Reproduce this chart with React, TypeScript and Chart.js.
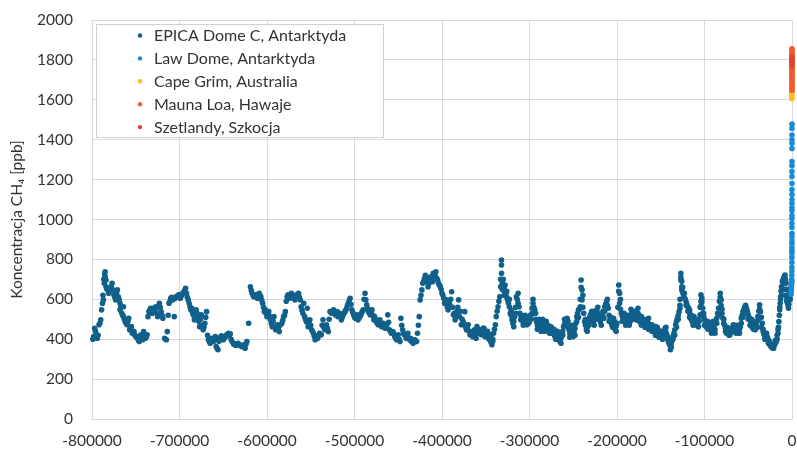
import { useEffect, useRef } from "react";
import { Chart, registerables } from "chart.js";

Chart.register(...registerables);

const FONT = "Lato, 'Open Sans', sans-serif";
const TEXT = "#333333";
const GRID = "#d9d9d9";

// Tick values of the axes
const xTicks = [-800000, -700000, -600000, -500000, -400000, -300000, -200000, -100000, 0];
const yTicks = [0, 200, 400, 600, 800, 1000, 1200, 1400, 1600, 1800, 2000];

// EPICA Dome C: age in thousands of years (negative = before present) and CH4 in ppb
const epicaAgeKyr = [
  -799, -798, -797, -795, -794, -792, -790, -789, -788, -787, -786, -785, -785, -784, -784, -782, -781, -779, -777, -776,
  -775, -773, -771, -770, -768, -768, -766, -764, -764, -762, -760, -758, -757, -755, -754, -752, -750, -748, -746, -744,
  -742, -741, -739, -737, -736, -735, -733, -731, -729, -727, -725, -723, -721, -719, -717, -715, -714, -712, -710, -708,
  -706, -704, -701, -699, -697, -695, -693, -692, -690, -688, -687, -685, -683, -681, -679, -677, -675, -673, -671, -669,
  -667, -665, -663, -661, -659, -658, -656, -654, -652, -650, -648, -646, -644, -642, -640, -637, -634, -633, -629, -627,
  -625, -623, -621, -619, -617, -615, -613, -611, -609, -607, -605, -603, -602, -600, -598, -596, -594, -592, -590, -588,
  -586,
  -583, -581, -579, -577, -576, -574, -572, -570, -568, -566, -564, -562, -561, -559, -558, -557, -555, -554, -553, -551,
  -549, -547, -545, -544, -542, -540, -538, -536, -534, -532, -530, -528, -526, -524, -522, -520, -519, -517, -515, -513,
  -511, -509, -507, -505, -503, -501, -499, -497, -496, -494, -492, -490, -488, -487, -486, -484, -482, -480, -478, -477,
  -475, -473, -471, -469, -467, -465, -463, -462, -460, -458, -456, -454, -452, -450, -448, -447, -445, -443, -441, -439,
  -437, -435, -433, -431, -429, -428, -426, -425, -423, -422, -420, -418, -416, -414, -413, -411, -409, -407, -406, -404,
  -402, -400, -398, -397, -395, -393, -391, -389, -387, -385, -383, -381, -380, -378, -376, -374, -372, -370, -368, -367,
  -365, -363, -361,
  -360, -358, -357, -355, -353, -351, -349, -347, -345, -343, -342, -341, -339, -338, -336, -334, -333, -332, -332, -332,
  -331, -330, -328, -327, -325, -323, -322, -320, -318, -317, -315, -313, -312, -310, -309, -307, -305, -303, -301, -300,
  -298, -296, -294, -292, -290, -288, -286, -284, -282, -280, -278, -276, -275, -273, -271, -269, -267, -265, -263, -261,
  -259, -257, -256, -254, -252, -250, -248, -246, -244, -242, -241, -240, -240, -238, -237, -235, -233, -231, -229, -227,
  -225, -223, -221, -219, -217, -215, -214, -212, -210, -208, -206, -204, -202, -200, -198, -197, -197, -195, -193, -191,
  -189, -187, -185, -183, -181, -179, -178, -176, -174, -172, -170, -168, -166, -164, -162, -160, -158, -156, -155, -153,
  -151, -149, -147, -145,
  -143, -142, -140, -139, -138, -136, -134, -133, -131, -129, -128, -127, -127, -126, -126, -124, -123, -121, -120, -118,
  -117, -116, -114, -112, -111, -109, -107, -105, -104, -103, -102, -101, -99, -98, -96, -94, -92, -90, -88, -86,
  -84, -82, -81, -80, -78, -76, -75, -73, -71, -69, -67, -65, -63, -61, -59, -58, -56, -54, -52, -50,
  -48, -46, -44, -42, -41, -39, -37, -36, -34, -33, -31, -29, -27, -25, -24, -22, -20, -18, -16, -15,
  -14, -13, -12, -10, -9, -8, -7, -6, -5, -4, -3, -2, -1,
];
const epicaCh4 = [
  400, 413, 455, 422, 405, 472, 497, 547, 580, 597, 680, 713, 738, 697, 663, 647, 630, 655, 680, 647,
  622, 597, 647, 613, 580, 547, 530, 513, 563, 488, 472, 505, 447, 463, 430, 438, 413, 405, 388, 422,
  397, 438, 405, 422, 513, 538, 555, 530, 547, 563, 513, 580, 538, 505, 405, 397, 438, 580, 605, 597,
  513, 613, 622, 605, 622, 638, 655, 630, 597, 563, 547, 530, 497, 547, 513, 463, 522, 447, 480, 538,
  397, 380, 405, 388, 413, 363, 347, 405, 417, 397, 410, 422, 430, 427, 388, 377, 372, 380, 363, 372,
  355, 388, 480, 663, 630, 613, 622, 605, 630, 613, 580, 538, 547, 513, 538, 497, 463, 513, 447, 472,
  438,
  480, 513, 538, 613, 622, 605, 630, 613, 597, 622, 630, 597, 563, 530, 580, 513, 488, 555, 463, 497,
  447, 430, 397, 413, 405, 430, 422, 497, 447, 472, 438, 538, 530, 547, 522, 538, 513, 530, 497, 522,
  538, 555, 580, 605, 547, 522, 505, 522, 497, 513, 530, 547, 630, 597, 572, 538, 522, 547, 497, 513,
  488, 472, 497, 463, 480, 455, 472, 522, 447, 430, 438, 413, 397, 422, 388, 505, 447, 422, 405, 430,
  397, 388, 380, 397, 388, 430, 513, 597, 647, 680, 705, 688, 663, 697, 713, 688, 722, 738, 705, 680,
  663, 630, 605, 580, 597, 547, 572, 638, 522, 497, 538, 597, 513, 472, 488, 538, 447, 472, 422, 438,
  413, 447, 405,
  463, 430, 447, 422, 455, 413, 430, 405, 397, 372, 388, 430, 472, 513, 563, 613, 663, 797, 772, 730,
  680, 647, 672, 630, 597, 563, 530, 497, 463, 513, 613, 630, 563, 497, 513, 480, 497, 472, 505, 488,
  522, 580, 547, 488, 455, 480, 447, 488, 455, 472, 438, 463, 430, 447, 413, 438, 405, 388, 422, 463,
  488, 505, 463, 430, 447, 413, 455, 513, 547, 563, 697, 647, 597, 530, 488, 447, 472, 513, 538, 488,
  522, 547, 513, 488, 522, 505, 563, 588, 555, 497, 472, 505, 447, 480, 672, 630, 580, 530, 497, 522,
  480, 505, 488, 538, 513, 530, 497, 555, 488, 513, 472, 497, 463, 505, 447, 472, 438, 463, 430, 447,
  413, 438, 422, 455,
  422, 397, 372, 347, 380, 413, 447, 472, 505, 538, 555, 730, 697, 663, 647, 622, 605, 588, 572, 555,
  530, 505, 488, 513, 480, 497, 463, 522, 622, 588, 555, 513, 488, 463, 488, 455, 438, 472, 447, 505,
  555, 630, 597, 530, 480, 455, 430, 447, 422, 447, 472, 438, 455, 430, 463, 505, 538, 563, 555, 522,
  497, 463, 488, 447, 472, 513, 572, 538, 480, 438, 413, 430, 397, 380, 363, 355, 372, 388, 430, 488,
  547, 613, 663, 680, 713, 722, 680, 613, 580, 555, 597, 630, 663,
];

// Further EPICA Dome C samples as [age kyr, CH4 ppb]
const epicaMoreSamples: [number, number][] = [
  [-798.5, 405], [-796, 440], [-793, 420], [-791, 480], [-787.5, 620], [-786.5, 700], [-785.5, 725], [-783, 650],
  [-780, 640], [-778, 665], [-774, 610], [-772, 630], [-769, 600], [-767, 560], [-765, 520], [-763, 500],
  [-761, 480], [-759, 490], [-756, 450], [-753, 440], [-751, 420], [-749, 415], [-747, 395], [-745, 410],
  [-743, 410], [-740, 420], [-738, 410], [-734, 545], [-732, 540], [-730, 555], [-728, 540], [-726, 530],
  [-724, 560], [-722, 560], [-720, 520], [-716, 400], [-713, 520], [-711, 590], [-709, 610], [-707, 600],
  [-705, 605], [-703, 615], [-700, 612], [-698, 625], [-696, 630], [-694, 645], [-691, 610], [-689, 580],
  [-686, 555], [-684, 520], [-682, 530], [-680, 530], [-678, 490], [-676, 500], [-674, 470], [-672, 460],
  [-670, 510], [-668, 420], [-666, 390], [-664, 395], [-662, 400], [-660, 400], [-657, 355], [-655, 390],
  [-653, 410], [-651, 405], [-649, 405], [-647, 415], [-645, 425], [-643, 420], [-641, 400], [-638, 375],
  [-636, 370], [-632, 372], [-630, 368], [-628, 365], [-626, 362], [-624, 375], [-618, 645], [-616, 620],
  [-614, 615], [-612, 615], [-610, 620], [-608, 620], [-606, 595], [-604, 560], [-601, 530], [-599, 525],
  [-597, 515], [-595, 480], [-593, 490], [-591, 460], [-589, 460], [-587, 450], [-585, 470], [-582, 495],
  [-580, 520], [-578, 590], [-575, 615], [-573, 620], [-571, 620], [-569, 605], [-567, 610], [-565, 625],
  [-563, 610], [-560, 545], [-556, 500], [-552, 480], [-550, 470], [-548, 440], [-546, 415], [-543, 410],
  [-541, 420], [-539, 425], [-537, 470], [-535, 460], [-533, 460], [-531, 455], [-529, 500], [-527, 535],
  [-525, 540], [-523, 530], [-521, 530], [-518, 520], [-516, 515], [-514, 510], [-512, 530], [-510, 545],
  [-508, 570], [-506, 595], [-504, 575], [-502, 535], [-500, 510], [-498, 515], [-495, 505], [-493, 520],
  [-491, 540], [-489, 600], [-485, 555], [-483, 530], [-481, 535], [-479, 520], [-476, 500], [-474, 480],
  [-472, 485], [-470, 480], [-468, 470], [-466, 465], [-464, 465], [-461, 485], [-459, 440], [-457, 435],
  [-455, 425], [-453, 405], [-451, 410], [-449, 400], [-446, 470],
  [-444, 430], [-440, 420], [-436, 405], [-432, 395], [-427, 470], [-424, 620], [-421, 690], [-419, 720],
  [-417, 700], [-415, 680], [-412, 700], [-410, 730], [-408, 720], [-405, 695], [-403, 672], [-401, 650],
  [-399, 620], [-396, 590], [-394, 560], [-392, 580], [-390, 600], [-388, 560], [-386, 530], [-384, 515],
  [-382, 560], [-379, 540], [-377, 500], [-375, 480], [-373, 460], [-371, 455], [-369, 440], [-366, 425],
  [-364, 430], [-362, 415],
  [-359, 445], [-356, 435], [-354, 440], [-352, 425], [-350, 420], [-348, 415], [-346, 400], [-344, 385],
  [-340, 450], [-337, 540], [-335, 590], [-333, 700], [-331, 650], [-329, 660], [-326, 610], [-324, 580],
  [-321, 545], [-319, 480], [-316, 560], [-314, 600], [-311, 530], [-308, 500], [-306, 490], [-304, 485],
  [-302, 495], [-299, 500], [-297, 555], [-295, 560], [-293, 500], [-291, 470], [-289, 465], [-287, 460],
  [-285, 470], [-283, 470], [-281, 460], [-279, 450], [-277, 450], [-274, 440], [-272, 425], [-270, 425],
  [-268, 415], [-266, 395], [-264, 405], [-262, 440], [-260, 475], [-258, 495], [-255, 450], [-253, 440],
  [-251, 425], [-249, 440], [-247, 480], [-245, 530], [-243, 550], [-239, 620], [-236, 470], [-234, 460],
  [-232, 495], [-230, 525], [-228, 505], [-226, 505], [-224, 535], [-222, 530], [-220, 500], [-218, 505],
  [-216, 515], [-213, 575], [-211, 570], [-209, 520], [-207, 485], [-205, 490], [-203, 470], [-201, 465],
  [-199, 560], [-196, 550], [-194, 515], [-192, 510], [-190, 500], [-188, 495], [-186, 495], [-184, 520],
  [-182, 525], [-180, 520], [-177, 525], [-175, 520], [-173, 500], [-171, 490], [-169, 485], [-167, 480],
  [-165, 485], [-163, 475], [-161, 460], [-159, 455], [-157, 450], [-154, 440], [-152, 430], [-150, 425],
  [-148, 430], [-146, 440], [-144, 435],
  [-141, 385], [-137, 395], [-135, 430], [-132, 490], [-130, 520], [-128, 600], [-126, 690], [-125, 635],
  [-122, 600], [-119, 560], [-117, 545], [-115, 500], [-113, 500], [-110, 490], [-108, 480], [-106, 490],
  [-104, 590], [-103, 605], [-101, 530], [-100, 500], [-97, 475], [-95, 470], [-93, 450], [-91, 455],
  [-89, 460], [-87, 480], [-85, 530], [-83, 590], [-81, 570], [-79, 505], [-77, 470], [-74, 440],
  [-72, 435], [-70, 435], [-68, 460], [-66, 455], [-64, 445], [-62, 445], [-60, 450], [-57, 520],
  [-55, 550], [-53, 570], [-51, 540], [-49, 510], [-47, 480], [-45, 475], [-43, 465], [-40, 490],
  [-38, 540], [-35, 510], [-32, 425], [-30, 420], [-28, 410], [-26, 390], [-23, 360], [-21, 365],
  [-19, 380], [-17, 400], [-15.5, 460], [-14.5, 520], [-13.5, 580], [-12.5, 640], [-11, 650], [-9.5, 700],
  [-8.5, 715], [-7.5, 700], [-6.5, 650], [-5.5, 600], [-4.5, 570], [-3.5, 575], [-2.5, 615], [-1.5, 650],
  [-0.5, 690],
  [-352, 455], [-348, 440], [-346, 425], [-344, 410], [-342, 400], [-330, 700], [-329, 620], [-326, 640],
  [-323, 600], [-321, 520], [-318, 490], [-316, 530], [-313, 580], [-310, 520], [-307, 470], [-305, 520],
  [-303, 510], [-301, 480], [-299, 520], [-297, 530], [-296, 600], [-293, 530], [-291, 450], [-289, 500],
  [-287, 440], [-285, 500], [-283, 440], [-281, 490], [-279, 470], [-277, 430], [-275, 460], [-272, 450],
  [-270, 400], [-268, 440], [-266, 420], [-264, 380], [-262, 420], [-260, 500], [-258, 470], [-256, 490],
  [-254, 410], [-252, 470], [-250, 440], [-248, 420], [-246, 490], [-244, 510], [-242, 600], [-241, 660],
  [-239, 560], [-236, 500], [-234, 440], [-232, 470], [-230, 490], [-228, 540], [-226, 470], [-224, 500],
  [-222, 560], [-220, 520], [-218, 470], [-216, 540], [-214, 540], [-211, 600], [-209, 490], [-207, 510],
  [-205, 460], [-203, 490], [-201, 440], [-198, 640], [-196, 600], [-194, 490], [-192, 530], [-190, 470],
  [-188, 520], [-186, 470], [-184, 550], [-182, 500], [-180, 540], [-178, 510], [-176, 530], [-174, 500],
  [-172, 470], [-170, 500], [-168, 460], [-166, 490], [-164, 450], [-162, 470], [-160, 440], [-158, 460],
  [-156, 420], [-154, 460], [-152, 410], [-150, 440], [-148, 400], [-146, 420], [-144, 460], [-142, 410],
  [-140, 390], [-138, 360], [-136, 400], [-134, 420], [-132, 460], [-130, 500], [-128, 570], [-127, 710],
  [-125, 660], [-123, 630], [-121, 570], [-119, 540], [-117, 510], [-115, 520], [-113, 470], [-111, 500],
  [-109, 470], [-107, 500], [-105, 560], [-104, 570], [-102, 530], [-100, 470], [-98, 490], [-96, 450],
  [-94, 480], [-92, 430], [-90, 490], [-88, 430], [-86, 480], [-84, 520], [-82, 610], [-80, 550],
  [-78, 500], [-76, 440], [-74, 460], [-72, 420], [-70, 450], [-68, 440], [-66, 470], [-64, 430],
  [-62, 470], [-60, 430], [-58, 480], [-56, 510], [-54, 540], [-52, 530], [-50, 500], [-48, 470],
  [-46, 500], [-44, 450], [-42, 470], [-40, 460], [-38, 500], [-37, 550], [-35, 460], [-33, 450],
  [-31, 400], [-29, 400], [-27, 380], [-25, 370], [-23, 375], [-21, 355], [-19, 395], [-17, 420],
  [-16, 450], [-14, 560], [-13, 600], [-12, 620], [-11, 690], [-10, 700], [-9, 650], [-8, 690],
  [-7, 620], [-6, 590], [-5, 620], [-4, 600], [-3, 640], [-2, 600], [-1, 680],
];

// Law Dome: last millennium, age in thousands of years
const lawDomeAgeKyr = [
  -1.0, -0.9, -0.8, -0.7, -0.6, -0.5, -0.4, -0.3, -0.25, -0.2, -0.17, -0.15, -0.13, -0.12, -0.11, -0.1,
  -0.095, -0.09, -0.085, -0.08, -0.075, -0.07, -0.065, -0.06, -0.055, -0.05, -0.047, -0.044, -0.041, -0.038,
  -0.035, -0.032, -0.03, -0.028, -0.026, -0.024, -0.022, -0.02, -0.018, -0.016, -0.014,
];
const lawDomeCh4 = [
  625, 640, 650, 660, 670, 680, 690, 700, 720, 740, 760, 785, 810, 830, 845, 860,
  880, 895, 915, 930, 960, 980, 1005, 1020, 1045, 1060, 1080, 1100, 1125, 1150,
  1180, 1215, 1240, 1270, 1290, 1356, 1382, 1400, 1423, 1456, 1478,
];

// Direct atmospheric measurements
const capeGrimAgeKyr = [-0.035, -0.033, -0.031, -0.029, -0.027, -0.025, -0.023, -0.021, -0.019, -0.017, -0.015, -0.013, -0.011, -0.009, -0.007, -0.005, -0.003, -0.002, -0.001];
const capeGrimCh4 = [1606, 1618, 1630, 1642, 1655, 1668, 1680, 1695, 1710, 1722, 1735, 1748, 1760, 1772, 1785, 1798, 1812, 1826, 1840];

const maunaLoaAgeKyr = [-0.033, -0.031, -0.029, -0.027, -0.025, -0.023, -0.021, -0.019, -0.017, -0.015, -0.013, -0.011, -0.009, -0.007, -0.005, -0.003, -0.001];
const maunaLoaCh4 = [1648, 1662, 1675, 1690, 1705, 1718, 1730, 1742, 1755, 1768, 1780, 1792, 1805, 1818, 1830, 1843, 1856];

const shetlandAgeKyr = [-0.025, -0.02, -0.015, -0.01, -0.005];
const shetlandCh4 = [1771, 1783, 1795, 1806, 1816];

const seriesNames = [
  "EPICA Dome C, Antarktyda",
  "Law Dome, Antarktyda",
  "Cape Grim, Australia",
  "Mauna Loa, Hawaje",
  "Szetlandy, Szkocja",
];
const seriesColors = ["#10608b", "#1a8cd2", "#fbbd2d", "#f15a2c", "#dd472d"];

const toPoints = (ages: number[], values: number[]) =>
  ages.map((a, i) => ({ x: Math.round(a * 1000), y: values[i] }));

// Legend drawn in a framed box inside the top-left corner of the plot area
const boxedLegend = {
  id: "boxedLegend",
  afterDraw(chart: any) {
    const { ctx, chartArea } = chart;
    const bx = chartArea.left + 4.5;
    const by = chartArea.top + 4.5;
    const bw = 287;
    const bh = 113;
    ctx.save();
    ctx.fillStyle = "#ffffff";
    ctx.fillRect(bx, by, bw, bh);
    ctx.strokeStyle = "#d0d0d0";
    ctx.lineWidth = 1;
    ctx.strokeRect(bx, by, bw, bh);
    ctx.font = `16px ${FONT}`;
    ctx.textBaseline = "middle";
    ctx.textAlign = "left";
    seriesNames.forEach((name, i) => {
      const cy = by + 11 + i * 22.9;
      ctx.fillStyle = seriesColors[i];
      ctx.beginPath();
      ctx.arc(bx + 43.5, cy, 2.2, 0, Math.PI * 2);
      ctx.fill();
      ctx.fillStyle = TEXT;
      ctx.fillText(name, bx + 57.5, cy + 0.5);
    });
    ctx.restore();
  },
};

// Keep the plot area where the axes' own sizes put it
const noScalePadding = (s: any) => {
  s.paddingTop = 0;
  s.paddingBottom = 0;
  s.paddingLeft = 0;
  s.paddingRight = 0;
};

export default function App() {
  const canvasRef = useRef<HTMLCanvasElement | null>(null);

  useEffect(() => {
    const canvas = canvasRef.current;
    if (!canvas) return;

    const epica = toPoints(epicaAgeKyr, epicaCh4).concat(
      epicaMoreSamples.map(([a, v]) => ({ x: Math.round(a * 1000), y: v }))
    );

    const sets = [
      epica,
      toPoints(lawDomeAgeKyr, lawDomeCh4),
      toPoints(capeGrimAgeKyr, capeGrimCh4),
      toPoints(maunaLoaAgeKyr, maunaLoaCh4),
      toPoints(shetlandAgeKyr, shetlandCh4),
    ];

    const chart = new Chart(canvas, {
      type: "scatter",
      data: {
        datasets: sets.map((data, i) => ({
          label: seriesNames[i],
          data,
          backgroundColor: seriesColors[i],
          borderColor: seriesColors[i],
          pointRadius: 2.8,
          pointBorderWidth: 0,
          showLine: false,
          clip: false,
          order: sets.length - i,
        })),
      },
      options: {
        responsive: false,
        animation: false,
        layout: { padding: { top: 20, right: 5, bottom: 0, left: 0 } },
        plugins: {
          legend: { display: false },
          tooltip: { enabled: false },
        },
        scales: {
          x: {
            type: "linear",
            min: xTicks[0],
            max: xTicks[xTicks.length - 1],
            afterBuildTicks: (s: any) => {
              s.ticks = xTicks.map((v) => ({ value: v }));
            },
            afterFit: (s: any) => {
              s.height = 32;
              noScalePadding(s);
            },
            ticks: {
              color: TEXT,
              font: { family: FONT, size: 15.5 },
              padding: 13,
              maxRotation: 0,
              autoSkip: false,
              callback: (v: any) => String(v),
            },
            grid: { color: GRID, lineWidth: 1, drawTicks: false },
            border: { display: false },
          },
          y: {
            type: "linear",
            min: yTicks[0],
            max: yTicks[yTicks.length - 1],
            afterBuildTicks: (s: any) => {
              s.ticks = yTicks.map((v) => ({ value: v }));
            },
            afterFit: (s: any) => {
              s.width = 92;
              noScalePadding(s);
            },
            ticks: {
              color: TEXT,
              font: { family: FONT, size: 15.5 },
              padding: 19,
              autoSkip: false,
              callback: (v: any) => String(v),
            },
            grid: { color: GRID, lineWidth: 1, drawTicks: false },
            border: { display: false },
            title: {
              display: true,
              text: "Koncentracja CH₄ [ppb]",
              color: TEXT,
              font: { family: FONT, size: 15.5 },
              padding: { top: 8, bottom: 0 },
            },
          },
        },
      },
      plugins: [boxedLegend],
    });

    return () => chart.destroy();
  }, []);

  return (
    <div style={{ position: "absolute", left: 0, top: 0, width: 797, height: 451 }}>
      <canvas ref={canvasRef} width={797} height={451} style={{ display: "block" }} />
    </div>
  );
}
